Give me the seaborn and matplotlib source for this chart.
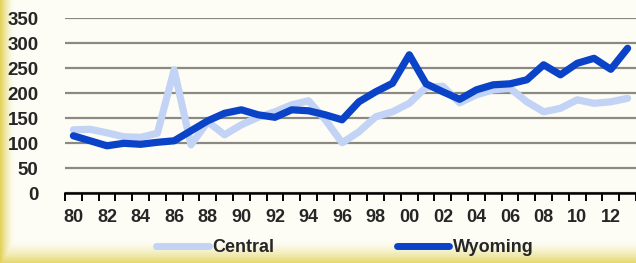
import numpy as np
import pandas as pd
import seaborn as sns
import matplotlib.pyplot as plt
from matplotlib.ticker import FixedLocator

# data
years = list(range(1980, 2014))
central = [127, 128, 121, 113, 112, 120, 247, 97, 143, 117, 137, 152,
           163, 177, 185, 147, 101, 123, 153, 163, 180, 212, 214, 181,
           197, 207, 210, 183, 163, 170, 187, 180, 183, 190]
wyoming = [115, 105, 95, 100, 98, 102, 105, 125, 145, 160, 167, 157,
           152, 167, 165, 157, 147, 183, 203, 220, 277, 219, 203, 188,
           207, 217, 219, 227, 257, 237, 260, 270, 248, 290]
tick_labels = [f"{y % 100:02d}" for y in years[::2]]

df = pd.DataFrame({"year": years, "Central": central, "Wyoming": wyoming})
df["idx"] = np.arange(len(years))
long = df.melt(id_vars=["year", "idx"], var_name="series", value_name="value")

sns.set_style("white")
plt.rcParams["font.family"] = ["Liberation Sans", "DejaVu Sans"]

bg = "#fdfdf6"
fig = plt.figure(figsize=(6.36, 2.63), dpi=100, facecolor=bg)

# yellow glow along the left and bottom edges
W, H = 636, 263
xx, yy = np.meshgrid(np.arange(W), np.arange(H))
left = np.clip(1 - xx / 14.0, 0, 1) ** 1.5
bottom = np.clip(1 - (H - 1 - yy) / 22.0, 0, 1) ** 1.5
glow = np.maximum(left, bottom * 0.85)
base = np.array([253, 253, 246]) / 255
edge = np.array([226, 210, 90]) / 255
img = base[None, None, :] * (1 - glow[..., None]) + edge[None, None, :] * glow[..., None]
bax = fig.add_axes([0, 0, 1, 1], zorder=-10)
bax.imshow(img, aspect="auto", extent=[0, 1, 0, 1])
bax.axis("off")

ax = fig.add_axes([65 / 636, 1 - 193.3 / 263, 1 - 65 / 636, 175 / 263])
ax.set_facecolor("none")

palette = {"Central": "#c3d3f5", "Wyoming": "#0a43c8"}
sns.lineplot(data=long, x="idx", y="value", hue="series", palette=palette,
             linewidth=5.2, ax=ax, legend=True,
             solid_joinstyle="round", solid_capstyle="round")

ax.set_xlim(-0.5, len(years) - 0.5)
ax.set_ylim(0, 350)
ax.set_yticks(range(0, 351, 50))
ax.yaxis.grid(True, color="#8a8a82", linewidth=1.6)
ax.set_axisbelow(True)

ax.xaxis.set_major_locator(FixedLocator(np.arange(-0.5, len(years), 1)))
ax.xaxis.set_minor_locator(FixedLocator(np.arange(0, len(years), 2)))
ax.set_xticklabels([], minor=False)
ax.set_xticklabels(tick_labels, minor=True)
ax.tick_params(axis="x", which="major", direction="out", length=6, width=1.4,
               color="black", bottom=True)
ax.tick_params(axis="x", which="minor", length=0, pad=11, labelsize=13)
ax.tick_params(axis="y", length=0, pad=19, labelsize=13.5)
for lab in ax.get_xticklabels(minor=True) + ax.get_yticklabels():
    lab.set_fontweight("bold")

for s in ["top", "right", "left"]:
    ax.spines[s].set_visible(False)
ax.spines["bottom"].set_color("black")
ax.spines["bottom"].set_linewidth(1.8)
ax.set_xlabel("")
ax.set_ylabel("")

handles, labels = ax.get_legend_handles_labels()
ax.get_legend().remove()
for h in handles:
    h.set_linewidth(5)
fig.legend(handles, labels, loc="center", bbox_to_anchor=(345 / 636, 15 / 263),
           ncol=2, frameon=False, handlelength=2.9, handletextpad=0.2,
           columnspacing=6.8, prop={"weight": "bold", "size": 13})

fig.savefig("out.png", dpi=100, facecolor=bg)
